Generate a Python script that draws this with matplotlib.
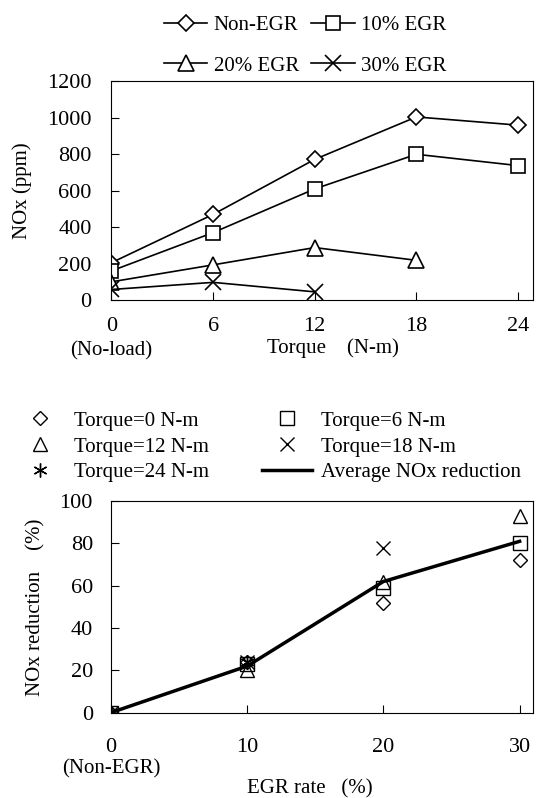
import numpy as np
import matplotlib
matplotlib.use("Agg")
from matplotlib import pyplot as plt

plt.rcParams['font.family'] = ['Liberation Serif', 'DejaVu Serif']
plt.rcParams['font.size'] = 15

# top chart: NOx vs torque
torque = [0, 6, 12, 18, 24]
nox_non = [205, 470, 772, 1005, 960]
nox_10 = [160, 370, 610, 800, 738]
nox_20 = [100, 193, 288, 218]
nox_30 = [58, 97, 45]

# bottom chart: NOx reduction vs EGR rate
egr = [0, 10, 20, 30]
red_t0 = [0, 24, 52, 72]
red_t6 = [0, 23, 59, 80]
red_t12 = [0, 20, 62, 93]
red_t18 = [0, 24, 78]
red_t24 = [0, 24]
red_avg = [0, 22, 62, 81]

fig = plt.figure(figsize=(5.52, 7.98), dpi=100)

#top axes
ax1 = fig.add_axes([0.201, 0.624, 0.765, 0.274])
mk = dict(color='k', lw=1.2, ms=10, mfc='white', mec='k', mew=1.2)
l0, = ax1.plot(torque, nox_non, marker='D', label='Non-EGR', **dict(mk, ms=8))
l1, = ax1.plot(torque, nox_10, marker='s', label='10% EGR', **mk)
l2, = ax1.plot(torque[:4], nox_20, marker='^', label='20% EGR', **dict(mk, ms=11))
l3, = ax1.plot(torque[:3], nox_30, marker='x', label='30% EGR', **dict(mk, ms=11))
ax1.set_xlim(-0.03, 24.9)
ax1.set_ylim(0, 1200)
ax1.set_xticks(torque)
ax1.set_yticks(np.arange(0, 1201, 200))
ax1.tick_params(axis='x', direction='in', length=6, pad=12, labelsize=16)
ax1.tick_params(axis='y', direction='in', length=6, pad=14, labelsize=16)
ax1.set_ylabel('NOx (ppm)', labelpad=11)
ax1.set_xlabel('Torque    (N-m)', labelpad=2)
ax1.xaxis.label.set_x(0.525)
ax1.text(0, -0.19, '(No-load)', transform=ax1.get_xaxis_transform(), ha='center', va='top')
hs = [l0, l2, l1, l3]
ax1.legend(hs, [h.get_label() for h in hs], ncol=2, loc='lower center',
           bbox_to_anchor=(0.46, 0.94), frameon=False,
           handlelength=2.1, columnspacing=0.6, handletextpad=0.3, labelspacing=1.0)

#bottom axes
ax2 = fig.add_axes([0.201, 0.107, 0.765, 0.265])
sc = dict(ls='none', color='k', mfc='none', mec='k', mew=1.0)
h0, = ax2.plot(egr, red_t0, marker='D', ms=7, label='Torque=0 N-m', **sc)
h6, = ax2.plot(egr, red_t6, marker='s', ms=10, label='Torque=6 N-m', **sc)
h12, = ax2.plot(egr, red_t12, marker='^', ms=10, label='Torque=12 N-m', **sc)
h18, = ax2.plot(egr[:3], red_t18, marker='x', ms=10, label='Torque=18 N-m', **sc)
h24, = ax2.plot(egr[:2], red_t24, marker=(6, 2, 0), ms=10, label='Torque=24 N-m', **sc)
ha, = ax2.plot(egr, red_avg, color='k', lw=2.5, label='Average NOx reduction')
ax2.set_xlim(0, 31)
ax2.set_ylim(0, 100)
ax2.set_xticks(egr)
ax2.set_yticks(np.arange(0, 101, 20))
ax2.tick_params(axis='x', direction='in', length=6, pad=18, labelsize=16)
ax2.tick_params(axis='y', direction='in', length=6, pad=13, labelsize=16)
ax2.set_ylabel('NOx reduction    (%)', labelpad=10)
ax2.set_xlabel('EGR rate   (%)', labelpad=16)
ax2.xaxis.label.set_x(0.47)
ax2.text(0, -0.22, '(Non-EGR)', transform=ax2.get_xaxis_transform(), ha='center', va='top')
hb = [h0, h12, h24, h6, h18, ha]
ax2.legend(hb, [h.get_label() for h in hb],
           ncol=2, loc='lower center', bbox_to_anchor=(0.372, 1.0), frameon=False,
           handlelength=2.4, columnspacing=2.5, handletextpad=0.45, labelspacing=0.3)

fig.savefig('out.png', dpi=100)
